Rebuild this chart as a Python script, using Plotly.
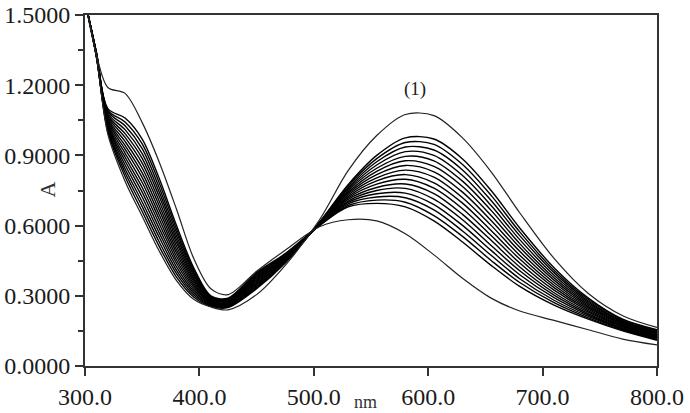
import plotly.graph_objects as go

# wavelength grid (nm)
wavelengths = [300, 310, 320, 335, 350, 365, 380, 395, 410, 425, 450, 475,
               505, 530, 555, 580, 605, 630, 655, 680, 710, 740, 770, 800]

# curve (1): highest band maximum near 590 nm
curve_1 = [1.56, 1.320, 0.990, 0.790, 0.640, 0.490, 0.365, 0.285, 0.252, 0.240, 0.305, 0.430,
           0.625, 0.835, 0.985, 1.075, 1.070, 0.975, 0.830, 0.655, 0.460, 0.310, 0.215, 0.165]

# last curve: lowest band maximum near 540 nm
curve_last = [1.56, 1.330, 1.190, 1.165, 1.040, 0.870, 0.670, 0.460, 0.330, 0.305, 0.405, 0.495,
              0.595, 0.625, 0.620, 0.565, 0.475, 0.375, 0.290, 0.235, 0.195, 0.155, 0.115, 0.090]

# intermediate spectra
bundle_curves = [
    [1.56, 1.320, 1.000, 0.810, 0.660, 0.510, 0.380, 0.295, 0.255, 0.250, 0.330, 0.440, 0.615, 0.775, 0.900, 0.975, 0.970, 0.885, 0.750, 0.590, 0.420, 0.290, 0.200, 0.155],
    [1.56, 1.321, 1.007, 0.827, 0.681, 0.529, 0.395, 0.303, 0.258, 0.253, 0.335, 0.443, 0.614, 0.769, 0.886, 0.955, 0.947, 0.861, 0.729, 0.573, 0.409, 0.284, 0.197, 0.152],
    [1.56, 1.323, 1.013, 0.843, 0.701, 0.549, 0.409, 0.312, 0.261, 0.255, 0.339, 0.445, 0.613, 0.762, 0.873, 0.936, 0.923, 0.838, 0.707, 0.557, 0.399, 0.278, 0.193, 0.149],
    [1.56, 1.324, 1.020, 0.860, 0.722, 0.568, 0.424, 0.320, 0.264, 0.258, 0.344, 0.448, 0.612, 0.756, 0.859, 0.916, 0.900, 0.814, 0.686, 0.540, 0.388, 0.272, 0.190, 0.146],
    [1.56, 1.325, 1.027, 0.877, 0.743, 0.587, 0.439, 0.328, 0.267, 0.261, 0.349, 0.451, 0.611, 0.750, 0.845, 0.896, 0.877, 0.790, 0.665, 0.523, 0.377, 0.266, 0.187, 0.143],
    [1.56, 1.327, 1.033, 0.893, 0.763, 0.607, 0.453, 0.337, 0.270, 0.263, 0.353, 0.453, 0.610, 0.743, 0.832, 0.877, 0.853, 0.767, 0.643, 0.507, 0.367, 0.260, 0.183, 0.140],
    [1.56, 1.328, 1.040, 0.910, 0.784, 0.626, 0.468, 0.345, 0.273, 0.266, 0.358, 0.456, 0.609, 0.737, 0.818, 0.857, 0.830, 0.743, 0.622, 0.490, 0.356, 0.254, 0.180, 0.137],
    [1.56, 1.329, 1.047, 0.927, 0.805, 0.645, 0.483, 0.353, 0.276, 0.269, 0.363, 0.459, 0.608, 0.731, 0.804, 0.837, 0.807, 0.719, 0.601, 0.473, 0.345, 0.248, 0.177, 0.134],
    [1.56, 1.331, 1.053, 0.943, 0.825, 0.665, 0.497, 0.362, 0.279, 0.271, 0.367, 0.461, 0.607, 0.724, 0.791, 0.818, 0.783, 0.696, 0.579, 0.457, 0.335, 0.242, 0.173, 0.131],
    [1.56, 1.332, 1.060, 0.960, 0.846, 0.684, 0.512, 0.370, 0.282, 0.274, 0.372, 0.464, 0.606, 0.718, 0.777, 0.798, 0.760, 0.672, 0.558, 0.440, 0.324, 0.236, 0.170, 0.128],
    [1.56, 1.333, 1.067, 0.977, 0.867, 0.703, 0.527, 0.378, 0.285, 0.277, 0.377, 0.467, 0.605, 0.712, 0.763, 0.778, 0.737, 0.648, 0.537, 0.423, 0.313, 0.230, 0.167, 0.125],
    [1.56, 1.335, 1.073, 0.993, 0.887, 0.723, 0.541, 0.387, 0.288, 0.279, 0.381, 0.469, 0.604, 0.705, 0.750, 0.759, 0.713, 0.625, 0.515, 0.407, 0.303, 0.224, 0.163, 0.122],
    [1.56, 1.336, 1.080, 1.010, 0.908, 0.742, 0.556, 0.395, 0.291, 0.282, 0.386, 0.472, 0.603, 0.699, 0.736, 0.739, 0.690, 0.601, 0.494, 0.390, 0.292, 0.218, 0.160, 0.119],
    [1.56, 1.337, 1.087, 1.027, 0.929, 0.761, 0.571, 0.403, 0.294, 0.285, 0.391, 0.475, 0.602, 0.693, 0.722, 0.719, 0.667, 0.577, 0.473, 0.373, 0.281, 0.212, 0.157, 0.116],
    [1.56, 1.339, 1.093, 1.043, 0.949, 0.781, 0.585, 0.412, 0.297, 0.287, 0.395, 0.477, 0.601, 0.686, 0.709, 0.700, 0.643, 0.554, 0.451, 0.357, 0.271, 0.206, 0.153, 0.113],
    [1.56, 1.340, 1.100, 1.060, 0.970, 0.800, 0.600, 0.420, 0.300, 0.290, 0.400, 0.480, 0.600, 0.680, 0.695, 0.680, 0.620, 0.530, 0.430, 0.340, 0.260, 0.200, 0.150, 0.110],
]

x_ticks = [300, 400, 500, 600, 700, 800]
y_ticks = [0.0, 0.3, 0.6, 0.9, 1.2, 1.5]

FONT = "Liberation Serif, Times New Roman, serif"
W, H = 690, 413
ML, MR, MT, MB = 85, 33, 15, 47

fig = go.Figure()
for ys in bundle_curves:
    fig.add_trace(go.Scatter(x=wavelengths, y=ys, mode="lines",
                             line=dict(color="black", width=1.4, shape="spline", smoothing=0.9),
                             showlegend=False, hoverinfo="skip"))
for ys in (curve_1, curve_last):
    fig.add_trace(go.Scatter(x=wavelengths, y=ys, mode="lines",
                             line=dict(color="#222", width=1.2, shape="spline", smoothing=0.9),
                             showlegend=False, hoverinfo="skip"))

axis_common = dict(showgrid=False, zeroline=False, showline=True, linecolor="#333",
                   linewidth=2, mirror=True, ticks="outside", tickcolor="#333",
                   tickwidth=1.5, ticklen=8, automargin=False,
                   tickfont=dict(family=FONT, size=24, color="#1a1a1a"))

fig.update_xaxes(range=[300, 800], tickvals=x_ticks, tickformat=".1f", **axis_common)
fig.update_yaxes(range=[0, 1.5], tickvals=y_ticks, tickformat=".4f",
                 minor=dict(dtick=0.15, tick0=0, ticks="outside", ticklen=5,
                            tickcolor="#333", tickwidth=1.5),
                 **axis_common)


def px_to_paper(px, py):
    return (px - ML) / (W - ML - MR), 1 - (py - MT) / (H - MT - MB)


fig.add_annotation(x=588.5, y=1.182, text="(1)", showarrow=False,
                   font=dict(family=FONT, size=19, color="#222"))
ax, ay = px_to_paper(32, 190)
fig.add_annotation(x=ax, y=ay, xref="paper", yref="paper", text="A", showarrow=False,
                   textangle=-90, font=dict(family=FONT, size=22, color="#333"))
nx, ny = px_to_paper(365, 413)
fig.add_annotation(x=nx, y=ny, xref="paper", yref="paper", text="nm", showarrow=False,
                   yanchor="bottom", borderpad=0,
                   font=dict(family=FONT, size=18, color="#333"))

fig.update_layout(width=W, height=H, margin=dict(l=ML, r=MR, t=MT, b=MB),
                  paper_bgcolor="white", plot_bgcolor="white")

fig.write_html("out.html")
